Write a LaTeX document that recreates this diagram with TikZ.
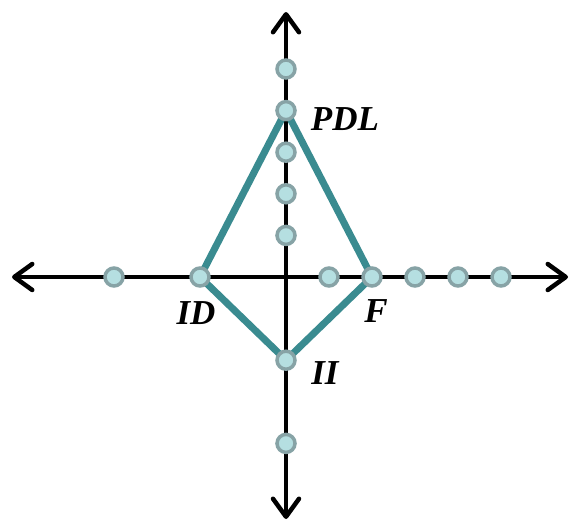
\documentclass[tikz,border=0pt]{standalone}
\usepackage{fontspec}
\setmainfont{Liberation Serif}
\usetikzlibrary{arrows.meta}
\definecolor{dotfill}{HTML}{B5DFE1}
\definecolor{dotring}{HTML}{87A3A6}
\definecolor{teal2}{HTML}{3A8B90}
\tikzset{
  axis/.style={line width=4pt, -{Straight Barb[length=18pt,width=26pt,line width=4.5pt,round]}},
  dot/.style={circle, fill=dotfill, draw=dotring, line width=3.5pt, minimum size=18pt, inner sep=0pt},
  edge/.style={teal2, line width=7pt},
  lbl/.style={font=\fontsize{35}{37}\selectfont\bfseries\itshape}
}
\begin{document}
\begin{tikzpicture}[x=1pt,y=-1pt]
\useasboundingbox (0,0) rectangle (570,522);
\def\ox{286}\def\oy{277}
\coordinate (O) at (\ox,\oy);
\coordinate (L) at (12,277);
\coordinate (R) at (568,277);
\coordinate (T) at (286,12);
\coordinate (B) at (286,519);
\draw[axis] (O) -- (L);
\draw[axis] (O) -- (R);
\draw[axis] (O) -- (T);
\draw[axis] (O) -- (B);
\coordinate (pdl) at (286,110.6);
\coordinate (f) at (372,277);
\coordinate (ii) at (286,360.2);
\coordinate (id) at (200,277);
\draw[edge, line join=round] (pdl) -- (f) -- (ii) -- (id) -- cycle;
\foreach \i/\n in {-4/xa,-2/xb,1/xc,2/xd,3/xe,4/xf,5/xg}
  \node[dot] (\n) at (\ox+43*\i,\oy) {};
\foreach \j/\n in {5/ya,4/yb,3/yc,2/yd,1/ye,-2/yf,-4/yg}
  \node[dot] (\n) at (\ox,\oy-41.6*\j) {};
\node[lbl] (lpdl) at (345,119) {PDL};
\node[lbl] (lid) at (196,313) {ID};
\node[lbl] (lf) at (376,311) {F};
\node[lbl] (lii) at (325,373) {II};
\end{tikzpicture}
\end{document}
